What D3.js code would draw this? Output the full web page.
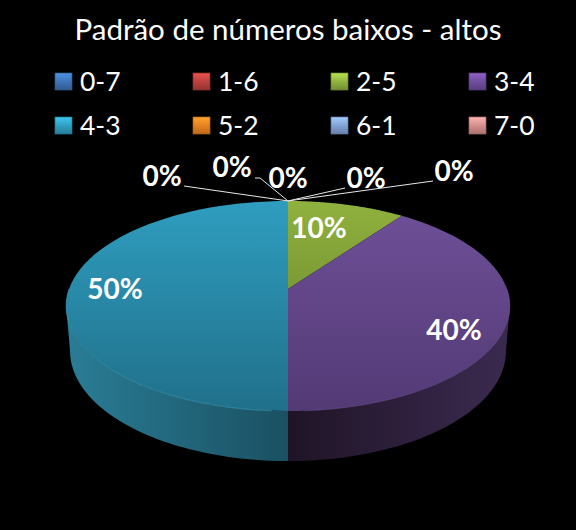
<!DOCTYPE html>
<html><head><meta charset="utf-8">
<style>html,body{margin:0;padding:0;background:#000}svg{display:block}text{font-family:Lato,"Open Sans",sans-serif}</style>
<script src="https://cdnjs.cloudflare.com/ajax/libs/d3/7.8.5/d3.min.js"></script>
</head><body><svg id="c" width="576" height="530"></svg>
<script>
const titleText = "Padrão de números baixos - altos";
const categories = ["0-7","1-6","2-5","3-4","4-3","5-2","6-1","7-0"];
const values = [0,0,10,40,50,0,0,0];
const baseColors = ["#3d72b5","#b8403d","#8eb040","#6f4c9b","#2f9cbd","#e58022","#7f9fd2","#d18c8a"];

const W=576,H=530;
const svg=d3.select("#c");
svg.append("rect").attr("width",W).attr("height",H).attr("fill","#000");
const defs=svg.append("defs");

const cx=288, ell={cy:306,rx:222,ry:105}, low={cy:351,rx:218,ry:110};
// perspective projection of the pie plane
const pc=0.1619, pa=-55.5, pb=289, pw=219;
const project=a=>{const u=Math.sin(a),v=Math.cos(a),d=1+pc*v;return [cx+pw*u/d,(pa*v+pb)/d];};
const projectLow=a=>{const [x,y]=project(a);
  return [cx+(x-cx)*low.rx/ell.rx, low.cy+(y-ell.cy)*low.ry/ell.ry];};
const samples=(a0,a1)=>d3.range(0,61).map(i=>a0+(a1-a0)*i/60);
const line=d3.line();
// angle at which the projected rim is widest: the wall silhouette starts there
const vWide=(pb-ell.cy)/(ell.cy*pc-pa);
const aWide=Math.acos(vWide);

const pie=d3.pie().sort(null).value(d=>d)(values);
const color=d3.scaleOrdinal().domain(categories).range(baseColors);

const topGrad={ "2-5":["#90b13e","#5f7a28"], "3-4":["#6f5099","#533a75"], "4-3":["#2f9dbf","#20708a"] };
const wallGrad={ "3-4":[["0","#1f1426"],["1","#3b2a50"]], "4-3":[["0","#2a7d96"],["1","#1a5062"]] };
Object.entries(topGrad).forEach(([k,c])=>{
  const g=defs.append("linearGradient").attr("id","t"+k).attr("gradientUnits","userSpaceOnUse")
    .attr("x1",0).attr("x2",0).attr("y1",201).attr("y2",411);
  g.append("stop").attr("offset",0).attr("stop-color",c[0]);
  g.append("stop").attr("offset",1).attr("stop-color",c[1]);
});
Object.entries(wallGrad).forEach(([k,c])=>{
  const left=k==="4-3";
  const g=defs.append("linearGradient").attr("id","w"+k).attr("gradientUnits","userSpaceOnUse")
    .attr("x1",left?66:288).attr("x2",left?288:510).attr("y1",0).attr("y2",0);
  c.forEach(s=>g.append("stop").attr("offset",s[0]).attr("stop-color",s[1]));
});

// side walls, only for the visible front of the rim
pie.filter(d=>d.endAngle>d.startAngle).forEach(d=>{
  const k=categories[d.index];
  const a0=Math.max(d.startAngle,aWide), a1=Math.min(d.endAngle,2*Math.PI-aWide);
  if(a1<=a0) return;
  const s=samples(a0,a1);
  svg.append("path").attr("d",line(s.map(project).concat(s.slice().reverse().map(projectLow)))+"Z")
    .attr("fill",`url(#w${k})`);
});
// top faces
const apex=[cx,pb];
pie.filter(d=>d.endAngle>d.startAngle).forEach(d=>{
  const k=categories[d.index];
  svg.append("path").attr("d",line([apex].concat(samples(d.startAngle,d.endAngle).map(project)))+"Z")
    .attr("fill",`url(#t${k})`);
});
// rim highlight on the front edge
svg.append("path").attr("d",line(samples(Math.PI*1.02,Math.PI*1.5).map(project)))
  .attr("fill","none").attr("stroke","#4fb4d0").attr("stroke-width",0.8).attr("opacity",.6);
svg.append("path").attr("d",line(samples(Math.PI*.5,Math.PI*.98).map(project)))
  .attr("fill","none").attr("stroke","#7d5fa8").attr("stroke-width",0.8).attr("opacity",.5);

// leader lines
const top0=project(0);
const labelLayout={ "0-7":{x:366,y:177,path:[[345,188]]}, "1-6":{x:454,y:170,path:[[433,181]]},
  "5-2":{x:162,y:175,path:[[184,186]]}, "6-1":{x:232,y:166,path:[[255,178],[260,178]]}, "7-0":{x:288,y:177,path:[]} };
categories.forEach(k=>{
  const l=labelLayout[k]; if(!l||!l.path.length) return;
  svg.append("path").attr("d",line(l.path.concat([top0]))).attr("fill","none").attr("stroke","#e8e8e8").attr("stroke-width",1);
});

// value labels
const fmt=v=>v+"%";
const valuePos={ "2-5":[319,227], "3-4":[454,329], "4-3":[115,288] };
const addLabel=(x,y,t)=>svg.append("text").attr("x",x).attr("y",y).attr("text-anchor","middle")
  .attr("dominant-baseline","central").attr("fill","#fff").attr("font-weight",700).attr("font-size",28).text(t);
pie.forEach(d=>{
  const k=categories[d.index];
  const p=valuePos[k]||[labelLayout[k].x,labelLayout[k].y];
  addLabel(p[0],p[1],fmt(d.value));
});

// title
svg.append("text").attr("x",288).attr("y",40).attr("text-anchor","middle").attr("fill","#fff")
  .attr("font-size",29.5).text(titleText);

// legend
const colX=d3.scalePoint().domain([0,1,2,3]).range([55,469]);
const rowY=d3.scalePoint().domain([0,1]).range([73,117]);
categories.forEach((k,i)=>{
  const cc=d3.color(color(k)), x=colX(i%4), y=rowY(Math.floor(i/4));
  const g=defs.append("linearGradient").attr("id","s"+i).attr("x1",0).attr("x2",0).attr("y1",0).attr("y2",1);
  [[0,cc.brighter(.7)],[.55,cc],[1,cc.darker(.6)]].forEach(s=>g.append("stop").attr("offset",s[0]).attr("stop-color",s[1]+""));
  svg.append("rect").attr("x",x).attr("y",y).attr("width",17).attr("height",17).attr("fill",`url(#s${i})`)
    .attr("stroke",cc.darker(.8)+"").attr("stroke-width",.7);
  svg.append("text").attr("x",x+25).attr("y",y+7.5).attr("dominant-baseline","central")
    .attr("fill","#fff").attr("font-size",26.5).text(k);
});
</script></body></html>
